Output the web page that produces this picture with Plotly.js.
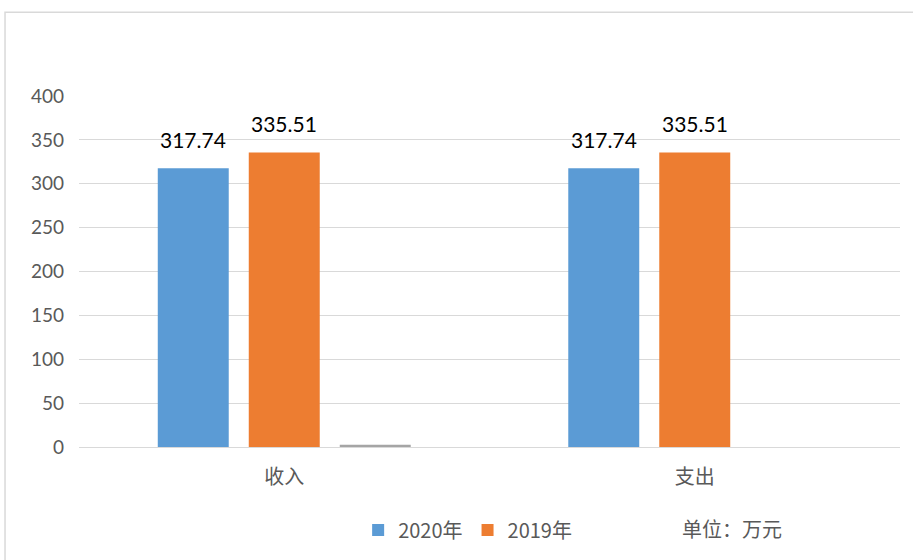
<!DOCTYPE html>
<html><head><meta charset="utf-8">
<script src="https://cdn.plot.ly/plotly-3.0.1.min.js"></script>
<style>html,body{margin:0;padding:0;background:#fff}</style>
</head><body><div id="chart" style="width:913px;height:560px"></div>
<script>
const categories = ["收入", "支出"];
const values2020 = [317.74, 317.74];
const values2019 = [335.51, 335.51];
const valuesOther = [2.5, null];
const seriesNames = ["2020年", "2019年"];
const unitText = "单位：万元";

const cjk = '"Noto Sans CJK SC", "Noto Sans", sans-serif';
const num = 'Lato, "Noto Sans", sans-serif';

const traces = [
  {type:'bar', x:categories, y:values2020, name:seriesNames[0], marker:{color:'#5B9BD5'}, offsetgroup:'a'},
  {type:'bar', x:categories, y:values2019, name:seriesNames[1], marker:{color:'#ED7D31'}, offsetgroup:'b'},
  {type:'bar', x:categories, y:valuesOther, name:'', marker:{color:'#A5A5A5'}, showlegend:false, offsetgroup:'c'}
];

const slot = (1-0.335)/3;
const annotations = [];
[values2020, values2019].forEach((vals, si) => {
  vals.forEach((v, ci) => {
    annotations.push({x:ci + (si-1)*slot, y:v, xref:'x', yref:'y', text:v.toFixed(2),
      showarrow:false, yanchor:'middle', yshift:29, font:{family:num, size:21, color:'#000'}});
  });
});
annotations.push({text:unitText, xref:'paper', yref:'paper', x:0.795, y:-0.233, xanchor:'center', yanchor:'middle',
  showarrow:false, font:{family:cjk, size:20, color:'#595959'}});

const layout = {
  width:913, height:560,
  margin:{l:79, r:13, t:96, b:112},
  paper_bgcolor:'#fff', plot_bgcolor:'#fff',
  barmode:'group', bargap:0.335, bargroupgap:0.22,
  showlegend:true,
  legend:{orientation:'h', x:0.34, xanchor:'left', y:-0.233, yanchor:'middle',
    font:{family:cjk, size:20, color:'#595959'}, itemwidth:30, tracegroupgap:0},
  xaxis:{tickfont:{family:cjk, size:20, color:'#595959'}, showline:false, ticks:'', showgrid:false, zeroline:false,
    ticklabelstandoff:16},
  yaxis:{range:[0,400], dtick:50, tickfont:{family:num, size:19, color:'#595959'},
    showgrid:true, gridcolor:'#D9D9D9', gridwidth:1, zeroline:true, zerolinecolor:'#D9D9D9', zerolinewidth:1,
    showline:false, ticks:'', ticklen:0, automargin:false, ticklabelstandoff:14},
  annotations:annotations,
  shapes:[{type:'rect', xref:'paper', yref:'paper', x0:-0.0901, x1:1.05, y0:-0.5, y1:(448-12)/352,
    line:{color:'#D9D9D9', width:1.5}, fillcolor:'rgba(0,0,0,0)', layer:'below'}]
};
Plotly.newPlot('chart', traces, layout, {displayModeBar:false, staticPlot:true});
</script></body></html>
